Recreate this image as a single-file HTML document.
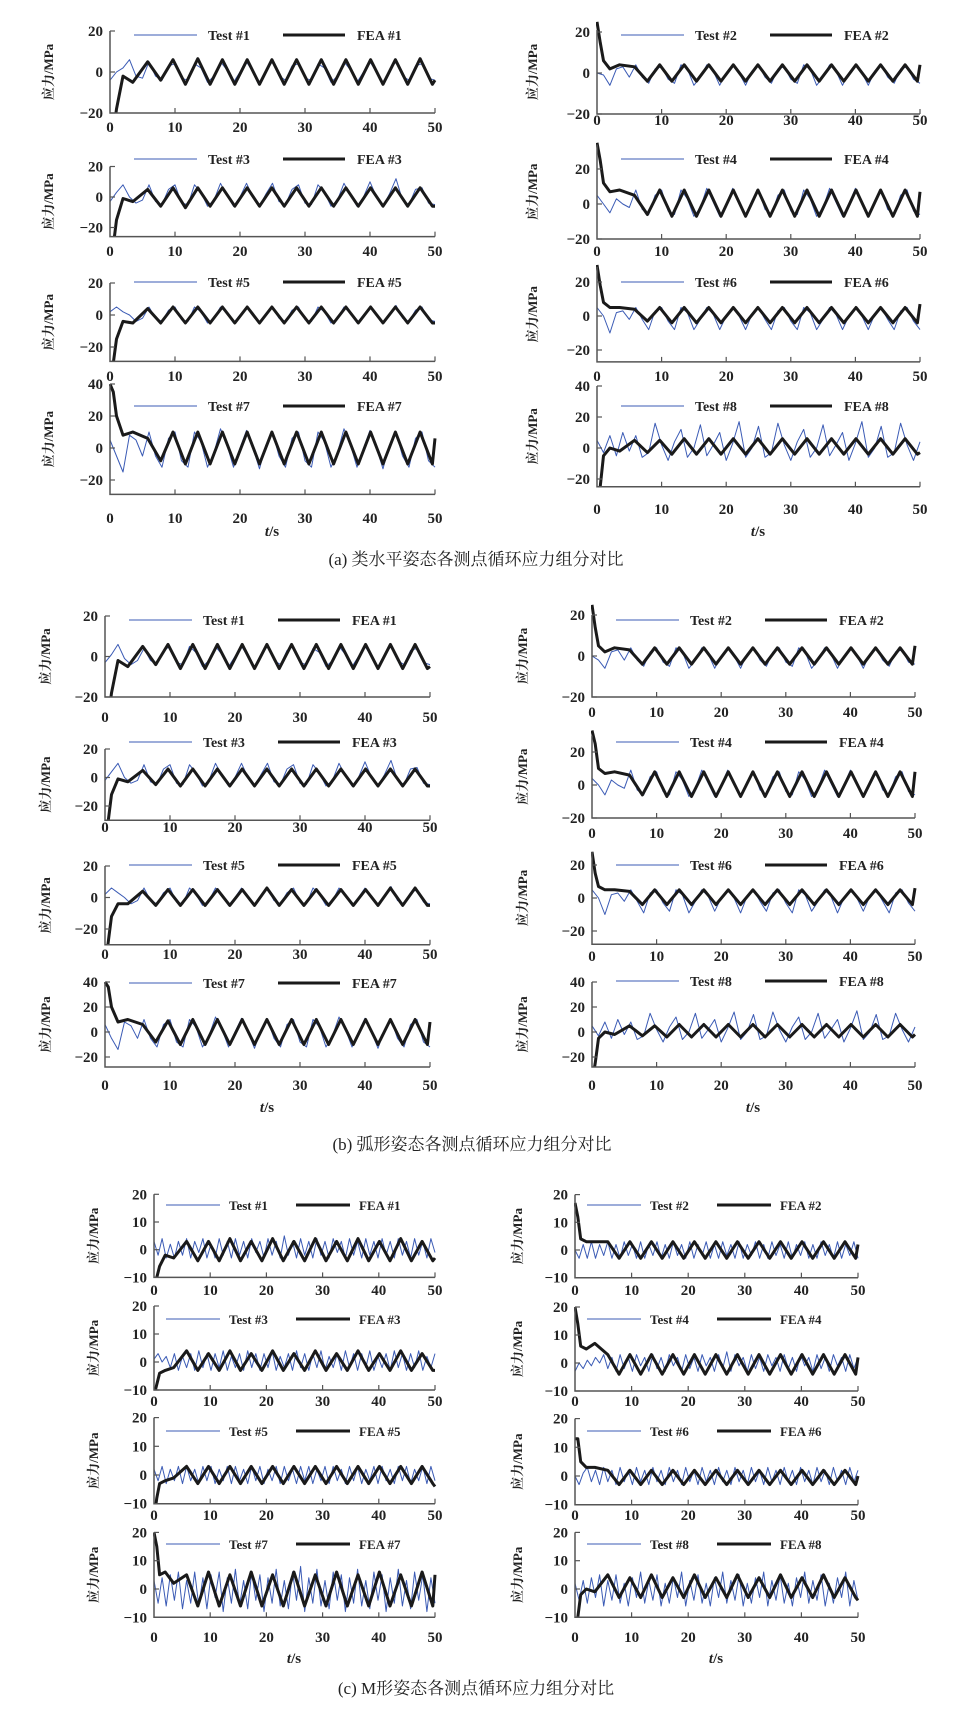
<!DOCTYPE html>
<html><head><meta charset="utf-8"><style>
html,body{margin:0;padding:0;background:#fff;}
svg{display:block;}
text{font-family:"Liberation Serif","Noto Serif CJK SC",serif;fill:#222;}
</style></head><body>
<svg id="fig" width="972" height="1735" viewBox="0 0 972 1735" xmlns="http://www.w3.org/2000/svg">
<rect width="972" height="1735" fill="#fff"/>
<g id="plots"></g>
<text x="272" y="536" font-size="15" font-weight="bold" text-anchor="middle"><tspan font-style="italic">t</tspan>/s</text>
<text x="758" y="536" font-size="15" font-weight="bold" text-anchor="middle"><tspan font-style="italic">t</tspan>/s</text>
<text x="476" y="565" font-size="17" text-anchor="middle">(a) 类水平姿态各测点循环应力组分对比</text>
<text x="267" y="1112" font-size="15" font-weight="bold" text-anchor="middle"><tspan font-style="italic">t</tspan>/s</text>
<text x="753" y="1112" font-size="15" font-weight="bold" text-anchor="middle"><tspan font-style="italic">t</tspan>/s</text>
<text x="472" y="1150" font-size="17" text-anchor="middle">(b) 弧形姿态各测点循环应力组分对比</text>
<text x="294" y="1663" font-size="15" font-weight="bold" text-anchor="middle"><tspan font-style="italic">t</tspan>/s</text>
<text x="716" y="1663" font-size="15" font-weight="bold" text-anchor="middle"><tspan font-style="italic">t</tspan>/s</text>
<text x="476" y="1694" font-size="17" text-anchor="middle">(c) M形姿态各测点循环应力组分对比</text>
</svg>
<script>
// shared FEA keypoint times (s)
const feaTimes = [0,0.5,1,2,3.5,5.8,7.8,9.7,11.6,13.5,15.4,17.3,19.2,21.1,23.0,24.9,26.8,28.7,30.6,32.5,34.4,36.3,38.2,40.1,42.0,43.9,45.8,47.7,49.6,50];
const xTicks = [0,10,20,30,40,50];

// ---- (a) ----
const feaA1 = [-40,-30,-18,-2,-5,5,-4,6,-6,6.5,-6,6,-6,6,-6,6,-6,6,-6,6,-6,6,-6,6,-6,6,-6,6.5,-6,-4];
const testA1 = [-4,0,2,6,-2,-3,5,-2,-4,3,4,-3,-4,4,2,-5,-2,5,1,-5,0,5,0,-5,1,5,-2,-4,3,4,-3,-4,4,2,-5,-2,5,1,-5,0,5,0,-5,1,5,-2,-4,3,4,-3,-4];
const feaA2 = [25,15,6,2,4,3,-4,4,-4,4,-4,4,-4,4,-4,4,-4,4,-4,4,-4,4,-4,4,-4,4,-4,4,-4,4];
const testA2 = [0,-1,-6,2,3,-2,4,-2,-5,2,3,-3,-5,4,2,-6,-2,4,1,-6,0,4,0,-6,1,4,-2,-5,2,3,-3,-5,4,2,-6,-2,4,1,-6,0,4,0,-6,1,4,-2,-5,2,3,-3,-5];
const feaA3 = [-45,-32,-15,-1,-3,5,-6,6,-7,6,-6,6,-6,6,-6,6,-6,6,-6,6,-6,6,-6,6,-6,6,-6,6,-6,-6];
const testA3 = [-3,3,8,0,-4,-2,8,-3,-5,5,8,-4,-5,8,3,-6,-2,9,1,-6,0,9,0,-6,2,9,-3,-5,5,8,-4,-5,8,3,-6,-2,9,1,-6,0,10,0,-6,2,12,-2,-5,5,6,-4,-5];
const feaA4 = [35,25,12,7,8,5,-6,8,-7,8,-7,8,-7,8,-7,8,-7,8,-7,8,-7,8,-7,8,-7,8,-7,8,-7,7];
const testA4 = [5,0,-5,3,0,-2,8,-3,-6,5,8,-4,-6,8,3,-7,-2,9,1,-7,0,9,0,-7,2,8,-3,-6,5,8,-4,-6,8,3,-7,-2,9,1,-7,0,9,0,-7,2,8,-3,-6,5,8,-4,-6];
const feaA5 = [-45,-30,-15,-4,-5,4,-5,5,-5,5,-5,5,-5,5,-5,5,-5,5,-5,5,-5,5,-5,5,-5,5,-5,5,-5,-5];
const testA5 = [2,5,2,0,-4,-2,5,-2,-4,3,5,-3,-4,5,2,-5,-2,5,1,-5,0,5,0,-5,1,5,-2,-4,3,5,-3,-4,5,2,-5,-2,5,1,-5,0,5,0,-5,1,6,-2,-4,3,5,-3,-4];
const feaA6 = [30,18,8,5,5,4,-3,5,-4,5,-4,5,-4,5,-4,5,-4,5,-4,5,-4,5,-4,5,-4,5,-4,5,-4,7];
const testA6 = [5,0,-10,2,3,-2,5,-2,-8,3,5,-3,-8,5,2,-8,-2,5,1,-8,0,5,0,-8,1,5,-2,-8,3,5,-3,-8,5,2,-8,-2,5,1,-8,0,5,0,-8,1,5,-2,-8,3,5,-3,-8];
const feaA7 = [40,35,20,8,10,6,-8,10,-10,10,-10,10,-10,10,-10,10,-10,10,-10,10,-10,10,-10,10,-10,10,-10,10,-10,6];
const testA7 = [5,-5,-15,8,5,-5,10,-5,-12,6,10,-8,-12,10,4,-12,-3,12,2,-12,0,11,0,-13,2,10,-5,-12,6,10,-8,-12,10,4,-12,-3,12,2,-12,0,11,0,-13,2,10,-5,-12,6,10,-8,-12];
const feaA8 = [-40,-25,-5,0,-2,5,-3,5,-4,6,-4,6,-4,6,-4,6,-4,6,-4,6,-4,6,-4,6,-4,6,-4,6,-4,-3];
const testA8 = [5,-3,8,-5,10,-2,8,-6,-3,16,2,-8,4,12,-6,0,15,-5,2,10,-8,3,17,-6,0,14,-6,-3,16,2,-8,4,12,-6,0,15,-5,2,10,-8,3,17,-6,0,14,-6,-3,16,2,-8,4];

// ---- (b) ----
const feaB1 = [-40,-30,-18,-2,-5,5,-4,6,-6,6,-6,6,-6,6,-6,6,-6,6,-6,6,-6,6,-6,6,-6,6,-6,6,-6,-5];
const testB1 = [-3,1,6,-1,-4,-2,4,-2,-4,3,5,-3,-4,5,2,-5,-2,5,1,-5,0,5,0,-5,1,5,-2,-4,3,5,-3,-4,4,2,-5,-2,5,1,-5,0,5,0,-5,1,5,-2,-4,3,4,-3,-4];
const feaB2 = [25,14,5,2,4,3,-4,4,-4,4,-4,4,-4,4,-4,4,-4,4,-4,4,-4,4,-4,4,-4,4,-4,4,-4,5];
const testB2 = [0,-2,-6,2,3,-2,4,-2,-5,2,4,-3,-5,4,2,-6,-2,4,1,-6,0,4,0,-6,1,4,-2,-5,2,4,-3,-5,4,2,-6,-2,4,1,-6,0,4,0,-6,1,4,-2,-5,2,3,-3,-4];
const feaB3 = [-45,-30,-12,-1,-3,5,-5,6,-6,6,-6,6,-6,6,-6,6,-6,6,-6,6,-6,6,-6,6,-6,6,-6,6,-6,-6];
const testB3 = [-2,4,10,0,-4,-2,9,-3,-5,6,9,-4,-5,9,3,-6,-2,10,1,-6,0,10,0,-6,2,10,-3,-5,6,9,-4,-5,9,3,-6,-2,10,1,-6,0,11,0,-6,2,12,-2,-5,6,7,-4,-5];
const feaB4 = [33,25,10,7,8,6,-6,8,-7,8,-7,8,-7,8,-7,8,-7,8,-7,8,-7,8,-7,8,-7,8,-7,8,-7,8];
const testB4 = [4,0,-6,3,0,-2,9,-3,-6,5,8,-4,-6,8,3,-7,-2,9,1,-7,0,9,0,-7,2,8,-3,-6,5,8,-4,-6,8,3,-7,-2,9,1,-7,0,9,0,-7,2,8,-3,-6,5,8,-4,-6];
const feaB5 = [-45,-28,-12,-4,-4,4,-5,5,-5,5,-5,5,-5,5,-5,6,-5,5,-5,5,-5,5,-5,5,-5,6,-5,6,-5,-5];
const testB5 = [2,6,3,0,-4,-2,6,-2,-4,3,6,-3,-4,6,2,-5,-2,6,1,-5,0,6,0,-5,1,6,-2,-4,3,6,-3,-4,6,2,-5,-2,6,1,-5,0,6,0,-5,1,7,-2,-4,3,5,-3,-4];
const feaB6 = [28,15,7,5,5,4,-4,5,-4,5,-4,5,-4,5,-4,5,-4,5,-4,5,-4,5,-4,5,-4,5,-4,5,-4,6];
const testB6 = [5,0,-10,2,3,-2,5,-2,-9,3,5,-3,-8,5,2,-9,-2,5,1,-8,0,5,0,-9,1,5,-2,-8,3,5,-3,-9,5,2,-8,-2,5,1,-9,0,5,0,-8,1,5,-2,-9,3,5,-3,-8];
const feaB7 = [40,36,20,8,10,6,-8,9,-10,10,-10,10,-10,10,-10,10,-10,10,-10,10,-10,10,-10,10,-10,10,-10,10,-10,8];
const testB7 = [6,-5,-14,8,5,-5,10,-5,-12,6,10,-8,-12,10,4,-12,-3,12,2,-12,0,11,0,-13,2,10,-5,-12,6,10,-8,-12,10,4,-12,-3,12,2,-12,0,11,0,-13,2,10,-5,-12,6,10,-8,-12];
const feaB8 = [-40,-25,-5,0,-2,5,-3,5,-4,6,-4,6,-4,6,-4,6,-4,6,-4,6,-4,6,-4,6,-4,6,-4,6,-4,-2];
const testB8 = [5,-3,8,-5,10,-2,8,-6,-3,15,2,-8,4,12,-6,0,15,-5,2,10,-8,3,16,-6,0,14,-6,-3,16,2,-8,4,12,-6,0,15,-5,2,10,-8,3,17,-6,0,14,-6,-3,15,2,-8,4];

// ---- (c) ----
const feaC1 = [-15,-10,-6,-2,-3,3,-4,3,-4,4,-4,3,-4,4,-4,3,-4,4,-4,3,-4,4,-4,3,-4,4,-4,3,-4,-3];
const testC1 = [3,-2,4,-3,2,-3,3,-2,4,-3,3,-1,4,-3,2,-3,4,-2,3,-3,4,-2,3,-3,4,-1,3,-3,4,-2,3,-3,5,-2,3,-3,4,-2,3,-3,4,-2,3,-3,4,-1,3,-3,4,-2,3,-3,4,-2,3,-3,4,-2,3,-3,4,-2,3,-3,4,-2,3,-3,4,-1];
const feaC2 = [17,12,4,3,3,3,-3,3,-3,3,-3,3,-3,3,-3,3,-3,3,-3,3,-3,3,-3,3,-3,3,-3,3,-3,2];
const testC2 = [0,-3,2,-3,3,-3,2,-2,3,-3,2,-3,3,-2,2,-3,3,-3,2,-2,3,-3,2,-3,3,-2,2,-3,3,-3,2,-2,3,-3,2,-3,3,-2,2,-3,3,-3,2,-2,3,-3,2,-3,3,-2,2,-3,3,-3,2,-2,3,-3,2,-3,3,-2,2,-3,3,-3,2,-2,3,-3];
const feaC3 = [-12,-8,-4,-3,-2,4,-3,3,-3,4,-3,3,-3,4,-3,3,-3,4,-3,3,-3,4,-3,3,-3,4,-3,3,-3,-3];
const testC3 = [1,3,0,2,-2,3,-3,2,-2,3,-3,4,-2,3,-3,3,-2,4,-3,2,-2,3,-3,4,-2,3,-3,3,-2,4,-3,2,-2,3,-3,4,-2,3,-3,3,-2,4,-3,2,-2,3,-3,4,-2,3,-3,3,-2,4,-3,2,-2,3,-3,4,-2,3,-3,3,-2,4,-3,2,-2,3];
const feaC4 = [20,14,6,5,7,3,-4,3,-4,3,-4,3,-4,3,-4,3,-4,3,-4,3,-4,3,-4,3,-4,3,-4,3,-4,2];
const testC4 = [-3,0,-2,1,-1,2,0,3,-2,2,-3,3,-2,2,-3,3,-1,2,-3,3,-2,2,-3,3,-1,2,-3,3,-2,2,-3,3,-1,2,-3,3,-2,4,-3,3,-1,2,-3,3,-2,2,-3,3,-1,2,-3,3,-2,2,-3,3,-1,2,-3,3,-2,2,-3,3,-1,2,-3,3,-2,2];
const feaC5 = [-15,-8,-3,-2,-1,3,-3,3,-3,3,-3,3,-3,3,-3,3,-3,3,-3,3,-3,3,-3,3,-3,3,-3,3,-3,-4];
const testC5 = [2,-2,3,-3,2,-2,3,-3,3,-2,2,-3,3,-2,3,-3,2,-2,3,-3,3,-2,2,-3,3,-2,3,-3,2,-2,3,-3,3,-2,2,-3,3,-2,3,-3,2,-2,3,-3,3,-2,2,-3,3,-2,3,-3,2,-2,3,-3,3,-2,2,-3,3,-2,3,-3,2,-2,3,-3,3,-2];
const feaC6 = [13,13,5,3,3,2,-3,2,-3,2,-3,2,-3,2,-3,2,-3,2,-3,2,-3,2,-3,2,-3,2,-3,2,-3,0];
const testC6 = [0,-3,1,3,-2,2,-3,3,-2,2,-3,3,-2,2,-3,3,-2,2,-3,3,-2,2,-3,3,-2,2,-3,3,-2,2,-3,3,-2,2,-3,3,-2,2,-3,3,-2,2,-3,3,-2,2,-3,3,-2,2,-3,3,-2,2,-3,3,-2,2,-3,3,-2,2,-3,3,-2,2,-3,3,-2,2];
const feaC7 = [20,15,5,6,2,5,-6,6,-6,5,-6,6,-6,5,-6,6,-6,5,-6,6,-6,5,-6,6,-6,5,-6,6,-6,5];
const testC7 = [3,-5,4,-6,5,-4,6,-7,3,-5,6,-6,4,-7,5,-3,6,-8,4,-5,7,-6,3,-7,6,-4,5,-8,4,-5,7,-6,3,-7,6,-4,8,-8,4,-5,7,-6,3,-7,6,-4,5,-8,4,-5,7,-6,3,-7,6,-4,5,-8,4,-5,7,-6,3,-7,6,-4,5,-8,4,-5];
const feaC8 = [-15,-10,-2,0,-1,5,-3,4,-3,5,-3,4,-3,5,-3,4,-3,5,-3,4,-3,5,-3,4,-3,5,-3,4,-3,-4];
const testC8 = [2,-4,3,-5,4,-3,5,-6,3,-4,5,-5,2,-6,4,-3,6,-5,3,-4,5,-6,2,-5,4,-3,6,-6,3,-4,5,-5,2,-6,4,-3,6,-5,3,-4,5,-6,2,-5,4,-3,6,-6,3,-4,5,-5,2,-6,4,-3,6,-5,3,-4,5,-6,2,-5,4,-3,6,-6,3,-4];

// layout (pixel placement, not data)
const Y2 = [-20,0,20], Y4 = [-20,0,20,40], YC = [-10,0,10,20];
const legA = {b0:24,b1:87,tt:98,k0:173,k1:235,ft:247,fs:14};
const legC = {b0:12,b1:66,tt:75,k0:142,k1:196,ft:205,fs:13};
const panels = [
 {id:'a1',n:1,x0:110,x1:435,zero:72,ppu:2.05,ymin:-20,ymax:20,yt:Y2,leg:35,lab:127,ylx:50,lg:legA,fea:feaA1,test:testA1},
 {id:'a3',n:3,x0:110,x1:435,zero:197,ppu:1.525,ymin:-26,ymax:20,yt:Y2,leg:159,lab:251,ylx:50,lg:legA,fea:feaA3,test:testA3},
 {id:'a5',n:5,x0:110,x1:435,zero:315,ppu:1.6,ymin:-29,ymax:20,yt:Y2,leg:282,lab:376,ylx:50,lg:legA,fea:feaA5,test:testA5},
 {id:'a7',n:7,x0:110,x1:435,zero:448,ppu:1.6,ymin:-29,ymax:40,yt:Y4,leg:406,lab:518,ylx:50,lg:legA,fea:feaA7,test:testA7},
 {id:'a2',n:2,x0:597,x1:920,zero:73,ppu:2.05,ymin:-20,ymax:21,yt:Y2,leg:35,lab:120,ylx:534,lg:legA,fea:feaA2,test:testA2},
 {id:'a4',n:4,x0:597,x1:920,zero:204,ppu:1.75,ymin:-20,ymax:34,yt:Y2,leg:159,lab:251,ylx:534,lg:legA,fea:feaA4,test:testA4},
 {id:'a6',n:6,x0:597,x1:920,zero:316,ppu:1.7,ymin:-27,ymax:29,yt:Y2,leg:282,lab:376,ylx:534,lg:legA,fea:feaA6,test:testA6},
 {id:'a8',n:8,x0:597,x1:920,zero:448,ppu:1.55,ymin:-25,ymax:40,yt:Y4,leg:406,lab:509,ylx:534,lg:legA,fea:feaA8,test:testA8},
 {id:'b1',n:1,x0:105,x1:430,zero:656.5,ppu:2.025,ymin:-20,ymax:20,yt:Y2,leg:620,lab:717,ylx:47,lg:legA,fea:feaB1,test:testB1},
 {id:'b3',n:3,x0:105,x1:430,zero:777.5,ppu:1.425,ymin:-30,ymax:20,yt:Y2,leg:742,lab:827,ylx:47,lg:legA,fea:feaB3,test:testB3},
 {id:'b5',n:5,x0:105,x1:430,zero:897.5,ppu:1.575,ymin:-30,ymax:20,yt:Y2,leg:865,lab:954,ylx:47,lg:legA,fea:feaB5,test:testB5},
 {id:'b7',n:7,x0:105,x1:430,zero:1032,ppu:1.25,ymin:-28,ymax:40,yt:Y4,leg:983,lab:1085,ylx:47,lg:legA,fea:feaB7,test:testB7},
 {id:'b2',n:2,x0:592,x1:915,zero:656,ppu:2.05,ymin:-20,ymax:20,yt:Y2,leg:620,lab:712,ylx:524,lg:legA,fea:feaB2,test:testB2},
 {id:'b4',n:4,x0:592,x1:915,zero:785,ppu:1.65,ymin:-20,ymax:30,yt:Y2,leg:742,lab:833,ylx:524,lg:legA,fea:feaB4,test:testB4},
 {id:'b6',n:6,x0:592,x1:915,zero:898,ppu:1.65,ymin:-28,ymax:28,yt:Y2,leg:865,lab:956,ylx:524,lg:legA,fea:feaB6,test:testB6},
 {id:'b8',n:8,x0:592,x1:915,zero:1032,ppu:1.25,ymin:-28,ymax:40,yt:Y4,leg:981,lab:1085,ylx:524,lg:legA,fea:feaB8,test:testB8},
 {id:'c1',n:1,x0:154,x1:435,zero:1249.7,ppu:2.77,ymin:-10,ymax:20,yt:YC,leg:1205,lab:1290,ylx:95,lg:legC,fea:feaC1,test:testC1},
 {id:'c3',n:3,x0:154,x1:435,zero:1362,ppu:2.8,ymin:-10,ymax:20,yt:YC,leg:1319,lab:1401,ylx:95,lg:legC,fea:feaC3,test:testC3},
 {id:'c5',n:5,x0:154,x1:435,zero:1475,ppu:2.87,ymin:-10,ymax:20,yt:YC,leg:1431,lab:1515,ylx:95,lg:legC,fea:feaC5,test:testC5},
 {id:'c7',n:7,x0:154,x1:435,zero:1589,ppu:2.83,ymin:-10,ymax:20,yt:YC,leg:1544,lab:1637,ylx:95,lg:legC,fea:feaC7,test:testC7},
 {id:'c2',n:2,x0:575,x1:858,zero:1250,ppu:2.77,ymin:-10,ymax:20,yt:YC,leg:1205,lab:1290,ylx:519,lg:legC,fea:feaC2,test:testC2},
 {id:'c4',n:4,x0:575,x1:858,zero:1363,ppu:2.8,ymin:-10,ymax:20,yt:YC,leg:1319,lab:1401,ylx:519,lg:legC,fea:feaC4,test:testC4},
 {id:'c6',n:6,x0:575,x1:858,zero:1476,ppu:2.87,ymin:-10,ymax:20,yt:YC,leg:1431,lab:1515,ylx:519,lg:legC,fea:feaC6,test:testC6},
 {id:'c8',n:8,x0:575,x1:858,zero:1589,ppu:2.83,ymin:-10,ymax:20,yt:YC,leg:1544,lab:1637,ylx:519,lg:legC,fea:feaC8,test:testC8}
];

const NS = 'http://www.w3.org/2000/svg';
const root = document.getElementById('plots');
const defs = document.createElementNS(NS,'defs');
root.appendChild(defs);
function mk(tag, attrs, parent){
  const e = document.createElementNS(NS, tag);
  for (const k in attrs) e.setAttribute(k, attrs[k]);
  parent.appendChild(e);
  return e;
}
panels.forEach(p => {
  const sx = t => p.x0 + (p.x1 - p.x0) * t / 50;
  const sy = v => p.zero - v * p.ppu;
  const yb = sy(p.ymin), ytop = sy(p.ymax);
  const g = mk('g', {}, root);
  
  
  const cp = mk('clipPath', {id:'clip-' + p.id}, defs);
  mk('rect', {x:p.x0 - 1, y:ytop - 25, width:p.x1 - p.x0 + 5, height:yb - ytop + 25}, cp);
  const n = p.test.length;
  const tpts = p.test.map((v, i) => sx(i * 50 / (n - 1)).toFixed(1) + ',' + sy(v).toFixed(1)).join(' ');
  const tl = mk('polyline', {points:tpts, fill:'none', stroke:'#3b5bb5', 'stroke-width':1, 'stroke-linejoin':'round', 'clip-path':'url(#clip-' + p.id + ')'}, g);
  
  
  const fpts = p.fea.map((v, i) => sx(feaTimes[i]).toFixed(1) + ',' + sy(v).toFixed(1)).join(' ');
  const fl = mk('polyline', {points:fpts, fill:'none', stroke:'#1a1a1a', 'stroke-width':3, 'stroke-linejoin':'round', 'clip-path':'url(#clip-' + p.id + ')'}, g);
  
  
  const ax = mk('path', {d:'M' + p.x0 + ',' + ytop + ' V' + yb + ' H' + p.x1, fill:'none', stroke:'#555', 'stroke-width':1.5}, g);
  
  
  xTicks.forEach(t => {
    if (t > 0) mk('line', {x1:sx(t), x2:sx(t), y1:yb, y2:yb - 5, stroke:'#555', 'stroke-width':1.2}, g);
    const tx = mk('text', {x:sx(t), y:p.lab + 5, 'font-size':15, 'text-anchor':'middle', 'font-weight':'bold'}, g);
    tx.textContent = t;
    
    
  });
  p.yt.forEach(v => {
    mk('line', {x1:p.x0, x2:p.x0 + 5, y1:sy(v), y2:sy(v), stroke:'#555', 'stroke-width':1.2}, g);
    const ty = mk('text', {x:p.x0 - 7, y:sy(v) + 5, 'font-size':15, 'text-anchor':'end', 'font-weight':'bold'}, g);
    ty.textContent = v < 0 ? '\u2212' + (-v) : v;
    
    
  });
  const ymid = (ytop + yb) / 2;
  const yl = mk('text', {x:p.ylx, y:ymid, 'font-size':13, 'text-anchor':'middle', transform:'rotate(-90 ' + p.ylx + ' ' + ymid + ')', 'dominant-baseline':'middle', 'font-weight':'bold'}, g);
  yl.textContent = '应力/MPa';
  
  
  const L = p.lg;
  const lg = mk('g', {}, g);
  
  
  mk('line', {x1:p.x0 + L.b0, x2:p.x0 + L.b1, y1:p.leg, y2:p.leg, stroke:'#3b5bb5', 'stroke-width':1}, lg);
  const lt = mk('text', {x:p.x0 + L.tt, y:p.leg + 5, 'font-size':L.fs, 'font-weight':'bold'}, lg);
  lt.textContent = 'Test #' + p.n;
  mk('line', {x1:p.x0 + L.k0, x2:p.x0 + L.k1, y1:p.leg, y2:p.leg, stroke:'#1a1a1a', 'stroke-width':3}, lg);
  const lf = mk('text', {x:p.x0 + L.ft, y:p.leg + 5, 'font-size':L.fs, 'font-weight':'bold'}, lg);
  lf.textContent = 'FEA #' + p.n;
});
</script>
</body></html>
